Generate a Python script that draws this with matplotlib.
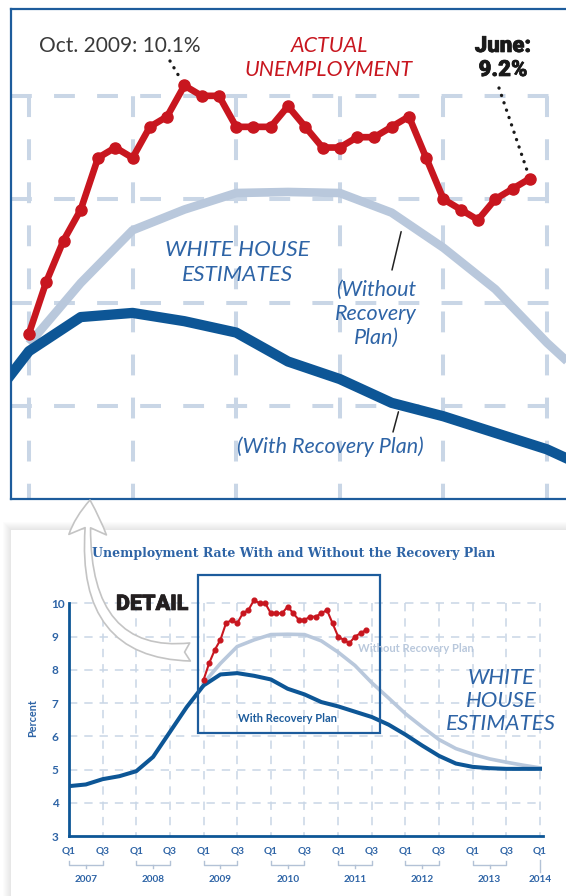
import matplotlib

matplotlib.use("Agg")
import matplotlib.patheffects as pe
import matplotlib.pyplot as plt
import numpy as np
from matplotlib.patches import FancyArrowPatch, Rectangle
from matplotlib.path import Path
from matplotlib.transforms import blended_transform_factory

# White House projections (quarterly, months counted from Jan 2007)
QUARTER_MONTHS = list(range(0, 85, 3))
WITH_PLAN = [
    4.50, 4.55, 4.71, 4.80,
    4.95, 5.38, 6.13, 6.88,
    7.53, 7.86, 7.90, 7.82,
    7.71, 7.43, 7.26, 7.03,
    6.90, 6.74, 6.58, 6.35,
    6.05, 5.72, 5.41, 5.18,
    5.08, 5.04, 5.02, 5.02,
    5.02,
]
WITHOUT_MONTHS = list(range(24, 85, 3))
WITHOUT_PLAN = [
    7.60, 8.19, 8.70, 8.90,
    9.06, 9.07, 9.06, 8.87,
    8.53, 8.13, 7.61, 7.15,
    6.68, 6.28, 5.90, 5.63,
    5.46, 5.32, 5.22, 5.13,
    5.05,
]

# Actual monthly unemployment, Jan 2009 - Jun 2011
ACTUAL_MONTHS = list(range(24, 54))
ACTUAL = [
    7.7, 8.2, 8.6, 8.9, 9.4, 9.5, 9.4, 9.7, 9.8, 10.1, 10.0, 10.0,
    9.7, 9.7, 9.7, 9.9, 9.7, 9.5, 9.5, 9.6, 9.6, 9.7, 9.8, 9.4,
    9.0, 8.9, 8.8, 9.0, 9.1, 9.2,
]

QUARTER_LABELS = ["Q1", "Q3"] * 7 + ["Q1"]
YEARS = ["2007", "2008", "2009", "2010", "2011", "2012", "2013", "2014"]

# window shown in the enlarged panel
DETAIL_X = (22.96, 55.35)
DETAIL_Y = (6.10, 10.84)

W, H, DPI = 566, 896, 100

RED = "#c8161f"
DARK = "#0d5696"
LIGHT = "#b9c8dc"
GRID = "#c9d6e6"
TEXT_BLUE = "#2e64a6"
FRAME = "#1d5c9c"
HEAVY = ["Roboto", "Lato", "DejaVu Sans"]

plt.rcParams["font.family"] = ["Lato", "DejaVu Sans"]
plt.rcParams["lines.scale_dashes"] = False

fig = plt.figure(figsize=(W / DPI, H / DPI), dpi=DPI)
fig.patch.set_facecolor("white")


def px_axes(left, top, right, bottom, **kw):
    return fig.add_axes([left / W, 1 - bottom / H, (right - left) / W, (bottom - top) / H], **kw)


def thick(color, width=0.5):
    return [pe.withStroke(linewidth=width, foreground=color)]


# background card with a soft shadow
bg = px_axes(0, 0, W, H, zorder=0)
bg.set_xlim(0, W)
bg.set_ylim(H, 0)
bg.axis("off")
for i in range(1, 9):
    bg.add_patch(Rectangle((11 - i, 530 - i), W + 20, H, facecolor="black", alpha=0.012, edgecolor="none"))
bg.add_patch(Rectangle((11, 530), W + 20, H, facecolor="white", edgecolor="none"))

# ---- enlarged panel ----
ax_top = px_axes(11, 9, 11 + (DETAIL_X[1] - DETAIL_X[0]) * 17.27, 499, zorder=1)
ax_top.set_xlim(*DETAIL_X)
ax_top.set_ylim(*DETAIL_Y)
ax_top.set_xticks([])
ax_top.set_yticks([])
for side in ["left", "top", "bottom"]:
    ax_top.spines[side].set_color(FRAME)
    ax_top.spines[side].set_linewidth(1.6)
ax_top.spines["right"].set_visible(False)

top_frac = (10 - DETAIL_Y[0]) / (DETAIL_Y[1] - DETAIL_Y[0])
for m in range(24, 55, 6):
    ax_top.axvline(m, ymin=0, ymax=top_frac, color=GRID, lw=2.9,
                   linestyle=(4, (15, 16)), zorder=1)
for v in range(7, 11):
    ax_top.axhline(v, color=GRID, lw=2.9, linestyle=(0, (15, 16)), zorder=1)

ax_top.plot(WITHOUT_MONTHS, WITHOUT_PLAN, color=LIGHT, lw=6.2, solid_joinstyle="round",
            solid_capstyle="butt", zorder=2)
ax_top.plot(QUARTER_MONTHS, WITH_PLAN, color=DARK, lw=7.4, solid_joinstyle="round", zorder=3)
ax_top.plot(ACTUAL_MONTHS, ACTUAL, color=RED, lw=4.8, marker="o", ms=8,
            solid_joinstyle="round", zorder=4)

# ---- full chart ----
ax = px_axes(69, 591.7, 542.8, 836, zorder=1)
ax.set_xlim(0, 84.5)
ax.set_ylim(3, 10.35)
for side in ["top", "right"]:
    ax.spines[side].set_visible(False)
for side in ["left", "bottom"]:
    ax.spines[side].set_color(DARK)
    ax.spines[side].set_linewidth(2.0)
ax.spines["left"].set_bounds(3, 10)

for m in range(6, 85, 6):
    ax.plot([m, m], [10, 3], color=GRID, lw=1.1, linestyle=(0, (6, 5)), zorder=1)
for v in range(4, 11):
    ax.plot([0, 84], [v, v], color=GRID, lw=1.1, linestyle=(0, (6, 5)), zorder=1)

ax.plot(WITHOUT_MONTHS, WITHOUT_PLAN, color=LIGHT, lw=2.6, zorder=2)
ax.plot(QUARTER_MONTHS, WITH_PLAN, color=DARK, lw=2.9, zorder=3)
ax.plot(ACTUAL_MONTHS, ACTUAL, color=RED, lw=1.5, marker="o", ms=3.4, zorder=4)

ax.add_patch(Rectangle((DETAIL_X[0], DETAIL_Y[0]), 55.47 - DETAIL_X[0], DETAIL_Y[1] - DETAIL_Y[0],
                       fill=False, edgecolor=FRAME, lw=1.6, clip_on=False, zorder=5))

ax.set_yticks(range(3, 11))
ax.set_yticklabels([str(v) for v in range(3, 11)], ha="left", fontsize=8.5,
                   fontweight="bold", color=TEXT_BLUE)
ax.set_xticks(QUARTER_MONTHS[::2])
ax.set_xticklabels(QUARTER_LABELS, fontsize=7.2, fontweight="bold", color=TEXT_BLUE)
ax.tick_params(axis="y", length=0, pad=12.5)
ax.tick_params(axis="x", length=0, pad=7.5)

# ---- overlay for labels, leaders and the arrow ----
ov = px_axes(0, 0, W, H, zorder=6)
ov.set_xlim(0, W)
ov.set_ylim(H, 0)
ov.axis("off")

ov.text(120, 46, "Oct. 2009: 10.1%", ha="center", va="center", fontsize=15,
        fontweight="normal", color="#3a3a3a")
ov.text(329, 46, "ACTUAL", ha="center", va="center", fontsize=15.5, style="italic", color=RED)
ov.text(329, 70, "UNEMPLOYMENT", ha="center", va="center", fontsize=15.5, style="italic", color=RED)
for y, line in zip([46, 70], ["June:", "9.2%"]):
    ov.text(503, y, line, ha="center", va="center", fontsize=16, fontweight="black",
            family=HEAVY, color="#1a1a1a", path_effects=thick("#1a1a1a"))

ov.text(237, 250, "WHITE HOUSE", ha="center", va="center", fontsize=16.2, style="italic", color=TEXT_BLUE)
ov.text(237, 275, "ESTIMATES", ha="center", va="center", fontsize=16.2, style="italic", color=TEXT_BLUE)
for y, line in zip([290, 314, 338], ["(Without", "Recovery", "Plan)"]):
    ov.text(376, y, line, ha="center", va="center", fontsize=15.5, style="italic", color=TEXT_BLUE)
ov.text(330, 447, "(With Recovery Plan)", ha="center", va="center", fontsize=15.5,
        style="italic", color=TEXT_BLUE)

dots = dict(arrowstyle="-", color="#1a1a1a", lw=2.4, linestyle=(0, (0.1, 5.5)), capstyle="round")
ax_top.annotate("", xy=(33, 10.1), xytext=(170, H - 61), textcoords="figure pixels",
                arrowprops=dict(dots, shrinkA=0, shrinkB=6))
ax_top.annotate("", xy=(53, 9.2), xytext=(499, H - 88), textcoords="figure pixels",
                arrowprops=dict(dots, shrinkA=0, shrinkB=6))

leader = dict(arrowstyle="-", color="#222222", lw=1.1)
m_wo = 45.7
ax_top.annotate("", xy=(m_wo, np.interp(m_wo, WITHOUT_MONTHS, WITHOUT_PLAN)),
                xytext=(392, H - 270), textcoords="figure pixels",
                arrowprops=dict(leader, shrinkA=0, shrinkB=8))
m_w = 45.5
ax_top.annotate("", xy=(m_w, np.interp(m_w, QUARTER_MONTHS, WITH_PLAN)),
                xytext=(393, H - 432), textcoords="figure pixels",
                arrowprops=dict(leader, shrinkA=0, shrinkB=5))

ov.text(294, 553, "Unemployment Rate With and Without the Recovery Plan", ha="center", va="center",
        fontsize=9, fontweight="bold", family="DejaVu Serif", color=TEXT_BLUE)
ov.text(152, 604, "DETAIL", ha="center", va="center", fontsize=15.5, fontweight="black",
        family=HEAVY, color="#231f20", path_effects=thick("#231f20"))
ov.text(416, 648, "Without Recovery Plan", ha="center", va="center", fontsize=8,
        fontweight="bold", color=LIGHT)
ov.text(288, 719, "With Recovery Plan", ha="center", va="center", fontsize=8,
        fontweight="bold", color=FRAME)
for y, line in zip([678, 701, 724], ["WHITE", "HOUSE", "ESTIMATES"]):
    ov.text(501, y, line, ha="center", va="center", fontsize=16, style="italic", color=TEXT_BLUE)
ov.text(33, 718, "Percent", ha="center", va="center", rotation=90, fontsize=7.8,
        fontweight="bold", color=TEXT_BLUE)

# year brackets under the quarter labels
tr = blended_transform_factory(ax.transData, ov.transData)
bracket = "#b3c2d6"
for i, year in enumerate(YEARS):
    m0 = 12 * i
    if i < len(YEARS) - 1:
        ov.plot([m0, m0, m0 + 6, m0 + 6], [861, 865, 865, 861], transform=tr, color=bracket, lw=1)
        ov.plot([m0 + 3, m0 + 3], [865, 868], transform=tr, color=bracket, lw=1)
        xm = m0 + 3
    else:
        ov.plot([m0, m0], [860, 872], transform=tr, color=bracket, lw=1)
        xm = m0
    ov.text(xm, 880, year, transform=tr, ha="center", va="center", fontsize=7.2,
            fontweight="bold", color=TEXT_BLUE)

# hollow curved arrow from the detail box up to the enlarged panel
arrow_path = Path([(190, 652), (72, 656), (90, 500)], [Path.MOVETO, Path.CURVE3, Path.CURVE3])
ov.add_patch(FancyArrowPatch(path=arrow_path, arrowstyle="fancy,head_length=2.5,head_width=2.7,tail_width=1.3",
                             mutation_scale=10, facecolor="white", edgecolor="#c4c4c4", lw=1.2,
                             transform=ov.transData))

fig.savefig("out.png", dpi=DPI)
